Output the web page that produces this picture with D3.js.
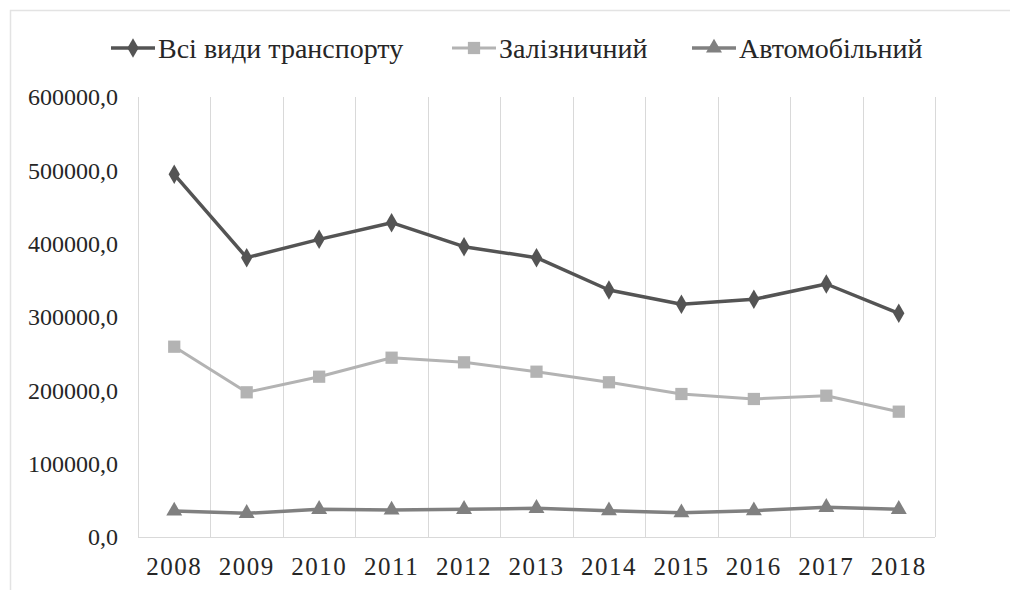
<!DOCTYPE html>
<html>
<head>
<meta charset="utf-8">
<script src="https://cdn.jsdelivr.net/npm/d3@7"></script>
<style>
  html, body { margin: 0; padding: 0; background: #fff; }
  svg { display: block; }
</style>
</head>
<body>
<svg id="chart" width="1010" height="590"></svg>
<script>
// ---- data ----
const years = ["2008","2009","2010","2011","2012","2013","2014","2015","2016","2017","2018"];
const seriesNames = ["Всі види транспорту", "Залізничний", "Автомобільний"];
const allTransport = [494600, 380900, 405900, 428600, 395900, 380900, 336800, 317300, 324100, 345000, 305000];
const railway      = [259500, 197300, 218600, 244500, 238200, 225400, 211000, 195000, 188200, 192700, 170900];
const automobile   = [35500, 32300, 37800, 36800, 37800, 39100, 35900, 33100, 35900, 40500, 37800];
const yTicks = [0, 100000, 200000, 300000, 400000, 500000, 600000];

const FONT = "'Liberation Serif'";
const TEXT_COLOR = "#262626";

const series = [
  { name: seriesNames[0], values: allTransport, color: "#545454", marker: "diamond", width: 3.5 },
  { name: seriesNames[1], values: railway,      color: "#b3b3b3", marker: "square",  width: 3 },
  { name: seriesNames[2], values: automobile,   color: "#808080", marker: "triangle",width: 3.5 }
];

const svg = d3.select("#chart");

// chart frame
svg.append("path")
  .attr("d", "M10.5,590 V10.5 H1010")
  .attr("fill", "none").attr("stroke", "#e3e3e3").attr("stroke-width", 1.5);

const x = d3.scaleBand().domain(years).range([138, 935]).paddingInner(0).paddingOuter(0);
const y = d3.scaleLinear().domain([0, 600000]).range([537, 97]);

// vertical gridlines at band boundaries
const bounds = years.map(d => x(d)).concat([x.range()[1]]);
svg.append("g").selectAll("line").data(bounds).join("line")
  .attr("x1", d => Math.round(d) + 0.5).attr("x2", d => Math.round(d) + 0.5)
  .attr("y1", y(600000)).attr("y2", y(0))
  .attr("stroke", "#d9d9d9").attr("stroke-width", 1);

// bottom axis line
svg.append("line")
  .attr("x1", x.range()[0]).attr("x2", x.range()[1])
  .attr("y1", y(0) + 0.5).attr("y2", y(0) + 0.5)
  .attr("stroke", "#d9d9d9").attr("stroke-width", 1);

// y axis labels
const locale = d3.formatLocale({ decimal: ",", thousands: "", grouping: [3], currency: ["", ""] });
const fmt = locale.format(".1f");
const yAxis = d3.axisLeft(y).tickValues(yTicks).tickFormat(fmt).tickSize(0).tickPadding(20);
const gy = svg.append("g").attr("transform", "translate(138,0)").call(yAxis);
gy.select(".domain").remove();
gy.selectAll("text")
  .style("font-family", FONT).style("font-size", "24px")
  .attr("fill", TEXT_COLOR).attr("dy", "0.32em");

// x axis labels
const xAxis = d3.axisBottom(x).tickSize(0).tickPadding(20);
const gx = svg.append("g").attr("transform", `translate(0,${y(0)})`).call(xAxis);
gx.select(".domain").remove();
gx.selectAll("text")
  .style("font-family", FONT).style("font-size", "25px").style("letter-spacing", "1.5px")
  .attr("fill", TEXT_COLOR);

// lines
const cx = d => x(d) + x.bandwidth() / 2;
const line = d3.line().x(d => cx(d.year)).y(d => y(d.value));

function markerPath(type, size) {
  if (type === "diamond") return d3.symbol(d3.symbolDiamond, size)();
  if (type === "square") return d3.symbol(d3.symbolSquare, size)();
  return d3.symbol(d3.symbolTriangle, size)();
}
const markerSize = { diamond: 110, square: 150, triangle: 110 };

series.forEach(s => {
  const pts = years.map((yr, i) => ({ year: yr, value: s.values[i] }));
  svg.append("path").datum(pts)
    .attr("d", line)
    .attr("fill", "none").attr("stroke", s.color).attr("stroke-width", s.width)
    .attr("stroke-linejoin", "round");
  svg.append("g").selectAll("path").data(pts).join("path")
    .attr("d", markerPath(s.marker, markerSize[s.marker]))
    .attr("transform", d => `translate(${cx(d.year)},${y(d.value)})`)
    .attr("fill", s.color);
});

// legend
const legendItems = [
  { s: series[0], x0: 111 },
  { s: series[1], x0: 452 },
  { s: series[2], x0: 692 }
];
const ly = 48;
legendItems.forEach(item => {
  const g = svg.append("g");
  g.append("line").attr("x1", item.x0).attr("x2", item.x0 + 44)
    .attr("y1", ly).attr("y2", ly)
    .attr("stroke", item.s.color).attr("stroke-width", item.s.width);
  g.append("path").attr("d", markerPath(item.s.marker, markerSize[item.s.marker]))
    .attr("transform", `translate(${item.x0 + 22},${ly})`).attr("fill", item.s.color);
  g.append("text").attr("x", item.x0 + 47).attr("y", ly).attr("dy", "0.35em")
    .style("font-family", FONT).style("font-size", "28px")
    .attr("fill", TEXT_COLOR).text(item.s.name);
});
</script>
</body>
</html>
